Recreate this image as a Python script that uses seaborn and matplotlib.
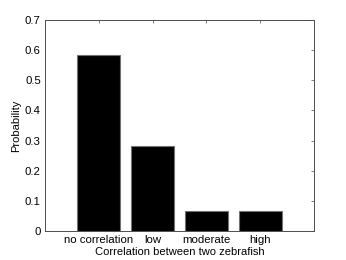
import matplotlib
matplotlib.use('Agg')
import matplotlib.pyplot as plt
import seaborn as sns
import pandas as pd

# probabilities per correlation class
categories = ['no correlation', 'low', 'moderate', 'high']
probability = [0.5833, 0.2833, 0.0667, 0.0667]
yticks = [0, 0.1, 0.2, 0.3, 0.4, 0.5, 0.6, 0.7]
ytick_labels = ['0', '0.1', '0.2', '0.3', '0.4', '0.5', '0.6', '0.7']

df = pd.DataFrame({'cat': categories, 'p': probability})

sns.set_style('white')
plt.rcParams['font.family'] = ['Liberation Sans', 'DejaVu Sans']

fig = plt.figure(figsize=(3.46, 2.60), dpi=100)
ax = fig.add_axes([45 / 346, 1 - 231 / 260, 269 / 346, 211 / 260])

sns.barplot(data=df, x='cat', y='p', ax=ax, color='black', saturation=1,
            width=0.8, edgecolor='0.45', linewidth=0.8)

ax.set_xlim(-1, 4)
ax.set_ylim(0, 0.7)
ax.set_yticks(yticks)
ax.set_yticklabels(ytick_labels)
ax.tick_params(direction='in', length=2.5, width=0.6, color='0.4',
               labelsize=8.2, labelcolor='black', top=True, right=True, pad=3)
for s in ax.spines.values():
    s.set_color('0.3')
    s.set_linewidth(0.7)
ax.set_xlabel('Correlation between two zebrafish', fontsize=8, color='black', labelpad=1.5)
ax.set_ylabel('Probability', fontsize=8, color='black', labelpad=3)

plt.savefig('out.png', dpi=100)
